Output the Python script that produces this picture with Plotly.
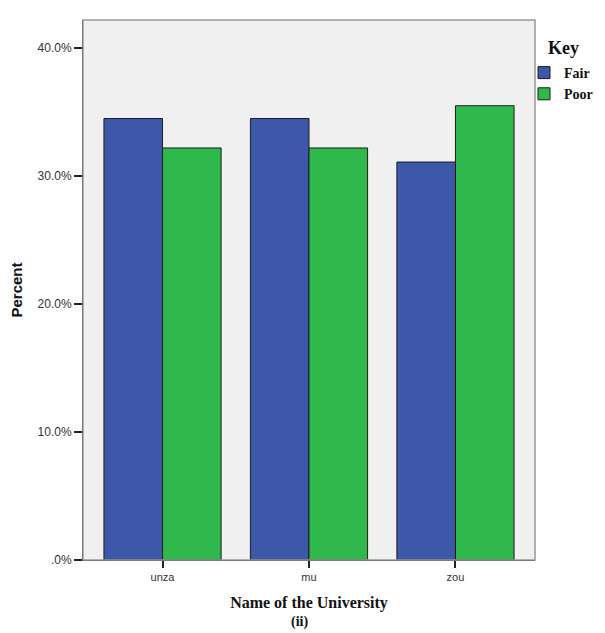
import plotly.graph_objects as go

universities = ["unza", "mu", "zou"]
fair = [34.5, 34.5, 31.1]
poor = [32.2, 32.2, 35.5]
y_tick_vals = [0, 10, 20, 30, 40]
y_tick_text = [".0%", "10.0%", "20.0%", "30.0%", "40.0%"]

fig = go.Figure()
fig.add_bar(x=universities, y=fair, name="<b>Fair</b>",
            marker=dict(color="#3d57a9", line=dict(color="#1e1e1e", width=1)))
fig.add_bar(x=universities, y=poor, name="<b>Poor</b>",
            marker=dict(color="#2fb84b", line=dict(color="#1e1e1e", width=1)))

# page has an 8px body margin, so the figure is drawn 8px smaller and offset
W, H = 597, 625
ml, mr, mt, mb = 75, 0, 12, 73
pw = W - ml - mr
ph = H - mt - mb
dom_right = (527 - ml) / pw

fig.update_layout(
    width=W, height=H,
    margin=dict(l=ml, r=mr, t=mt, b=mb, autoexpand=False),
    paper_bgcolor="white", plot_bgcolor="white",
    barmode="group", bargap=0.2, bargroupgap=0,
    showlegend=True,
    legend=dict(
        font=dict(family="Liberation Serif", size=14, color="#111"),
        x=(516 - ml) / pw, xanchor="left", y=(ph - 37) / ph, yanchor="top",
        bgcolor="rgba(0,0,0,0)", itemwidth=30, tracegroupgap=0,
    ),
    xaxis=dict(
        domain=[0, dom_right],
        range=[-0.543, 2.543], showgrid=False, zeroline=False,
        showline=True, linecolor="#222", linewidth=1,
        ticks="outside", ticklen=7, tickwidth=1.5, tickcolor="#222",
        tickfont=dict(family="Liberation Sans", size=11, color="#333"),
        title=dict(text="<b>Name of the University</b>",
                   font=dict(family="Liberation Serif", size=16, color="#111"), standoff=14),
    ),
    yaxis=dict(
        range=[0, 42.2], showgrid=False, zeroline=False,
        showline=True, linecolor="#222", linewidth=1,
        tickvals=y_tick_vals, ticktext=y_tick_text,
        ticks="outside", ticklen=8, tickwidth=2, tickcolor="#222",
        tickfont=dict(family="Liberation Sans", size=12, color="#333"),
        title=dict(text="<b>Percent</b>",
                   font=dict(family="Liberation Sans", size=15, color="#111"), standoff=12),
    ),
)

fig.add_shape(type="rect", xref="x domain", yref="y domain", x0=0, x1=1, y0=0, y1=1,
              line=dict(width=0), fillcolor="#f0f0f0", layer="below")
fig.add_shape(type="rect", xref="x domain", yref="y domain", x0=0, x1=1, y0=0, y1=1,
              line=dict(color="#999", width=1.5), layer="above")
fig.add_annotation(text="<b>Key</b>", xref="paper", yref="paper",
                   x=(538 - ml) / pw, y=(ph - 28) / ph, xanchor="left", yanchor="middle",
                   showarrow=False, font=dict(family="Liberation Serif", size=18, color="#111"))
fig.add_annotation(text="<b>(ii)</b>", xref="x domain", yref="paper", x=0.48, y=-0.115,
                   xanchor="center", yanchor="middle", showarrow=False,
                   font=dict(family="Liberation Serif", size=14, color="#111"))

fig.write_html("out.html")
